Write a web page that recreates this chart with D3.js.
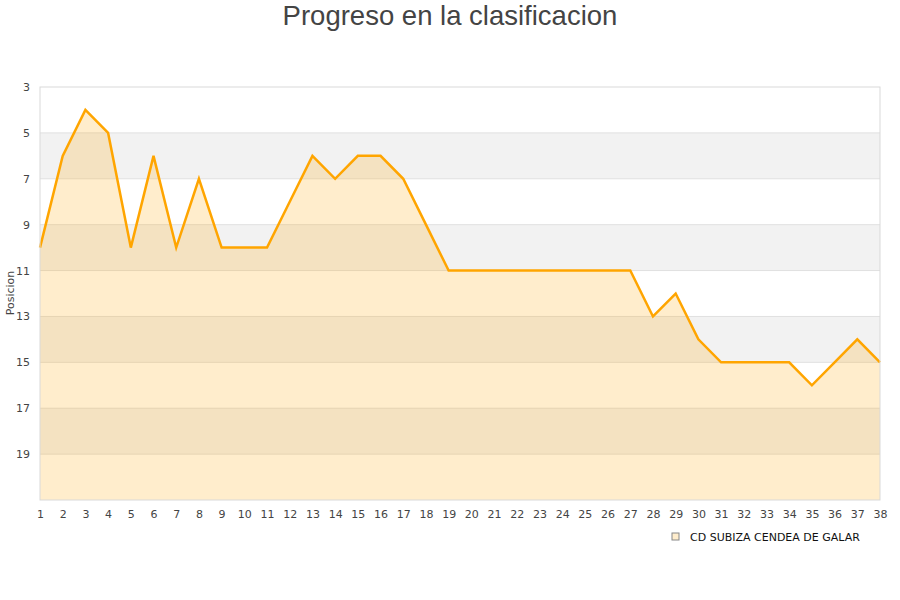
<!DOCTYPE html>
<html>
<head>
<meta charset="utf-8">
<script src="https://cdn.jsdelivr.net/npm/d3@7"></script>
<style>
  body { margin: 0; background: #fff; }
  svg text { font-family: "DejaVu Sans", sans-serif; }
</style>
</head>
<body>
<svg id="chart" width="900" height="600"></svg>
<script>
// Jornadas (x) and team position per jornada (y)
const rounds = d3.range(1, 39);
const positions = [10, 6, 4, 5, 10, 6, 10, 7, 10, 10, 10, 8, 6, 7, 6, 6, 7, 9, 11, 11,
                   11, 11, 11, 11, 11, 11, 11, 13, 12, 14, 15, 15, 15, 15, 16, 15, 14, 15];
const yTicks = [3, 5, 7, 9, 11, 13, 15, 17, 19];
const bandStarts = [5, 9, 13, 17];
const teamName = "CD SUBIZA CENDEA DE GALAR";

const data = rounds.map((r, i) => ({ round: r, pos: positions[i] }));

const svg = d3.select("#chart");
const margin = { top: 87, right: 20, bottom: 100, left: 40 };
const width = 900 - margin.left - margin.right;
const height = 600 - margin.top - margin.bottom;

svg.append("text")
    .attr("x", 450).attr("y", 25)
    .attr("text-anchor", "middle")
    .style("font-family", "'Liberation Sans', Arial, sans-serif")
    .style("font-size", "27.5px")
    .style("fill", "#444")
    .text("Progreso en la clasificacion");

const g = svg.append("g").attr("transform", `translate(${margin.left},${margin.top})`);

const x = d3.scaleLinear().domain([1, 38]).range([0, width]);
const y = d3.scaleLinear().domain([3, 21]).range([0, height]);

// Alternating grey bands
g.selectAll(".band").data(bandStarts).join("rect")
    .attr("x", 0).attr("width", width)
    .attr("y", d => y(d)).attr("height", d => y(d + 2) - y(d))
    .attr("fill", "#f2f2f2");

// Grid lines
g.selectAll(".grid").data(yTicks.slice(1)).join("line")
    .attr("x1", 0).attr("x2", width)
    .attr("y1", d => y(d)).attr("y2", d => y(d))
    .attr("stroke", "#e0e0e0");

// Area + line
g.append("path").datum(data)
    .attr("fill", "#ffa500").attr("fill-opacity", 0.2)
    .attr("d", d3.area().x(d => x(d.round)).y0(height).y1(d => y(d.pos)));

g.append("path").datum(data)
    .attr("fill", "none").attr("stroke", "#ffa500").attr("stroke-width", 2.5)
    .attr("stroke-linejoin", "miter")
    .attr("d", d3.line().x(d => x(d.round)).y(d => y(d.pos)));

// Plot frame
g.append("rect").attr("width", width).attr("height", height)
    .attr("fill", "none").attr("stroke", "#d9d9d9");

// Axes
const yAxis = g.append("g")
    .call(d3.axisLeft(y).tickValues(yTicks).tickSize(0).tickPadding(10));
yAxis.select(".domain").remove();
yAxis.selectAll("text").style("font-size", "11px").style("fill", "#444")
    .attr("dy", "0.32em");

const xAxis = g.append("g").attr("transform", `translate(0,${height})`)
    .call(d3.axisBottom(x).tickValues(rounds).tickFormat(d3.format("d")).tickSize(0).tickPadding(10));
xAxis.select(".domain").remove();
xAxis.selectAll("text").style("font-size", "11px").style("fill", "#444");

svg.append("text")
    .attr("transform", "translate(14,293) rotate(-90)")
    .attr("text-anchor", "middle")
    .style("font-size", "11px").style("fill", "#444")
    .text("Posicion");

// Legend
const legend = svg.append("g").attr("transform", "translate(672,533)");
legend.append("rect").attr("width", 7).attr("height", 7)
    .attr("fill", "#ffedcc").attr("stroke", "#888").attr("stroke-width", 1);
legend.append("text").attr("x", 18).attr("y", 7.5)
    .style("font-size", "11px").style("fill", "#111")
    .text(teamName);
</script>
</body>
</html>
